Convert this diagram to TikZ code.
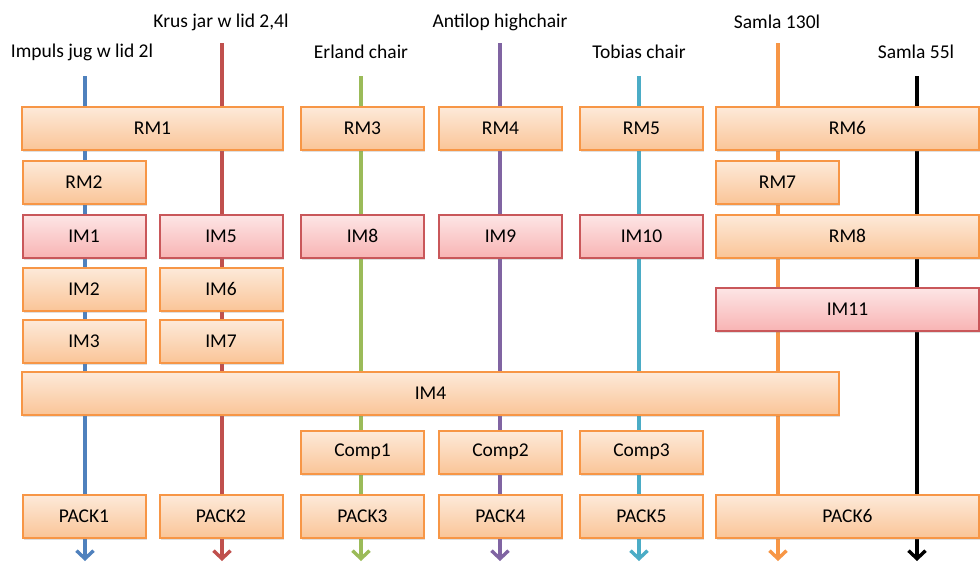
\documentclass[tikz,border=0pt]{standalone}
\usepackage{fontspec}
\setmainfont{Carlito}
\usetikzlibrary{arrows.meta,shadows,backgrounds}

\definecolor{boxline}{HTML}{F79646}
\definecolor{boxtop}{HTML}{FDEADA}
\definecolor{boxbot}{HTML}{FAC598}
\definecolor{injline}{HTML}{C9575A}
\definecolor{injtop}{HTML}{FDE6E6}
\definecolor{injbot}{HTML}{F8B4B4}
\definecolor{impuls}{HTML}{4F81BD}
\definecolor{krus}{HTML}{C0504D}
\definecolor{erland}{HTML}{9BBB59}
\definecolor{antilop}{HTML}{8064A2}
\definecolor{tobias}{HTML}{4BACC6}
\definecolor{samla}{HTML}{F79646}

\begin{document}
\begin{tikzpicture}[x=1pt,y=-1pt,
  every node/.style={font=\fontsize{19.5}{22}\selectfont},
  stage/.style={draw=boxline,line width=2pt,top color=boxtop,bottom color=boxbot,
    minimum height=43pt,minimum width=123pt,inner sep=0pt,
    drop shadow={opacity=0.25,shadow xshift=1pt,shadow yshift=-2pt}},
  inject/.style={stage,draw=injline,top color=injtop,bottom color=injbot},
  flow/.style={line width=3.4pt,-{Straight Barb[length=8pt,width=17pt]}}]
  \useasboundingbox (0,0) rectangle (980,563);

  % product names
  \node (lab1) at (82,52) {Impuls jug w lid 2l};
  \node (lab2) at (221,22) {Krus jar w lid 2,4l};
  \node (lab3) at (361,52) {Erland chair};
  \node (lab4) at (500,22) {Antilop highchair};
  \node (lab5) at (639,52) {Tobias chair};
  \node (lab6) at (777,22) {Samla 130l};
  \node (lab7) at (916,52) {Samla 55l};

  \coordinate (top1) at (85,76);   \coordinate (end1) at (85,561);
  \coordinate (top2) at (222,43);  \coordinate (end2) at (222,561);
  \coordinate (top3) at (361,76);  \coordinate (end3) at (361,561);
  \coordinate (top4) at (500,43);  \coordinate (end4) at (500,561);
  \coordinate (top5) at (639,76);  \coordinate (end5) at (639,561);
  \coordinate (top6) at (778,43);  \coordinate (end6) at (778,561);
  \coordinate (top7) at (917,76);  \coordinate (end7) at (917,561);

  % raw material
  \node[stage,minimum width=261pt] (rm1) at (152.5,128) {RM1};
  \node[stage] (rm3) at (362.5,128) {RM3};
  \node[stage] (rm4) at (500.5,128) {RM4};
  \node[stage] (rm5) at (641.5,128) {RM5};
  \node[stage,minimum width=263pt] (rm6) at (847.5,128) {RM6};
  \node[stage] (rm2) at (84,182) {RM2};
  \node[stage] (rm7) at (777.5,182) {RM7};

  % moulding
  \node[inject] (im1) at (84,236) {IM1};
  \node[inject] (im5) at (221,236) {IM5};
  \node[inject] (im8) at (362.5,236) {IM8};
  \node[inject] (im9) at (500.5,236) {IM9};
  \node[inject] (im10) at (641.5,236) {IM10};
  \node[stage,minimum width=263pt] (rm8) at (847.5,236) {RM8};
  \node[stage] (im2) at (84,289) {IM2};
  \node[stage] (im6) at (221,289) {IM6};
  \node[inject,minimum width=263pt] (im11) at (847.5,309) {IM11};
  \node[stage] (im3) at (84,341) {IM3};
  \node[stage] (im7) at (221,341) {IM7};
  \node[stage,minimum width=817pt] (im4) at (430.5,393) {IM4};

  % components
  \node[stage] (comp1) at (362.5,452) {Comp1};
  \node[stage] (comp2) at (500.5,452) {Comp2};
  \node[stage] (comp3) at (641.5,452) {Comp3};

  % packing
  \node[stage] (pack1) at (84,516) {PACK1};
  \node[stage] (pack2) at (221,516) {PACK2};
  \node[stage] (pack3) at (362.5,516) {PACK3};
  \node[stage] (pack4) at (500.5,516) {PACK4};
  \node[stage] (pack5) at (641.5,516) {PACK5};
  \node[stage,minimum width=263pt] (pack6) at (847.5,516) {PACK6};

  \begin{scope}[on background layer]
    \draw[flow,impuls] (top1) -- (end1);
    \draw[flow,krus] (top2) -- (end2);
    \draw[flow,erland] (top3) -- (end3);
    \draw[flow,antilop] (top4) -- (end4);
    \draw[flow,tobias] (top5) -- (end5);
    \draw[flow,samla] (top6) -- (end6);
    \draw[flow,black] (top7) -- (end7);
  \end{scope}
\end{tikzpicture}
\end{document}
